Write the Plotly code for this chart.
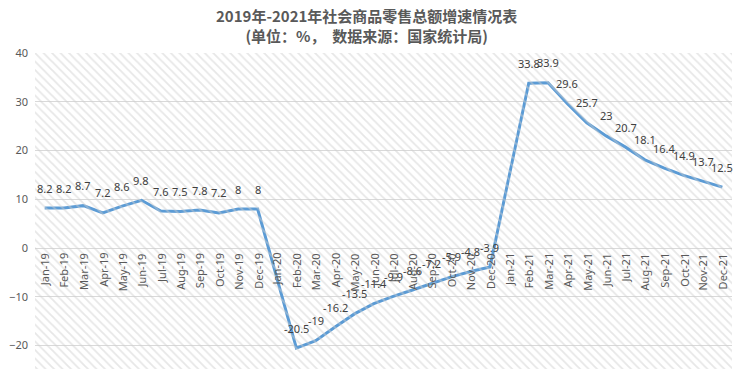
import plotly.graph_objects as go

months = ["Jan", "Feb", "Mar", "Apr", "May", "Jun", "Jul", "Aug", "Sep", "Oct", "Nov", "Dec"]
years = ["19", "20", "21"]
categories = [f"{m}-{y}" for y in years for m in months]

growth_2019 = [8.2, 8.2, 8.7, 7.2, 8.6, 9.8, 7.6, 7.5, 7.8, 7.2, 8, 8]
growth_2020 = [None, -20.5, -19, -16.2, -13.5, -11.4, -9.9, -8.6, -7.2, -5.9, -4.8, -3.9]
growth_2021 = [None, 33.8, 33.9, 29.6, 25.7, 23, 20.7, 18.1, 16.4, 14.9, 13.7, 12.5]
values = growth_2019 + growth_2020 + growth_2021

y_ticks = [-20, -10, 0, 10, 20, 30, 40]
y_range = [-24.8, 40]

title_line1 = "2019年-2021年社会商品零售总额增速情况表"
title_line2 = "(单位：%，  数据来源：国家统计局)"

LATIN = "Noto Sans, Liberation Sans, sans-serif"
CJK = "Noto Sans CJK SC, sans-serif"

fig = go.Figure()

# hatched plot-area background
fig.add_trace(go.Scatter(
    x=[0, 1, 1, 0, 0], y=[y_range[0], y_range[0], y_range[1], y_range[1], y_range[0]],
    xaxis="x2", yaxis="y", mode="lines", line=dict(width=0),
    fill="toself", fillcolor="rgba(0,0,0,0)",
    fillpattern=dict(shape="\\", fgcolor="#CFCFCF", bgcolor="rgba(0,0,0,0)", size=6, solidity=0.3),
    hoverinfo="skip", showlegend=False,
))

fig.add_trace(go.Scatter(
    x=categories, y=values, mode="lines", connectgaps=True,
    line=dict(color="#5B9BD5", width=3), showlegend=False,
))

annotations = []
for c, v in zip(categories, values):
    if v is not None:
        annotations.append(dict(
            x=c, y=v, xref="x", yref="y", text=f"{v:g}", showarrow=False,
            yanchor="middle", yshift=20,
            font=dict(family=LATIN, size=11, color="#404040"),
        ))
for c in categories:
    annotations.append(dict(
        x=c, y=0, xref="x", yref="y", text=c, showarrow=False,
        textangle=-90, xanchor="center", yanchor="top", yshift=-3,
        font=dict(family=LATIN, size=11, color="#595959"),
    ))
annotations.append(dict(
    x=0.476, y=1, xref="paper", yref="paper", yanchor="middle", yshift=28,
    text=f"<b>{title_line1}</b><br><b>{title_line2}</b>", showarrow=False,
    font=dict(family=CJK, size=15, color="#595959"),
))

fig.update_layout(
    width=740, height=369,
    margin=dict(l=35, r=8, t=53, b=0, autoexpand=False),
    paper_bgcolor="white", plot_bgcolor="white",
    xaxis=dict(type="category", range=[-0.5, len(categories) - 0.5], automargin=False,
               showticklabels=False, showgrid=False, zeroline=False, showline=False),
    xaxis2=dict(overlaying="x", range=[0, 1], visible=False),
    yaxis=dict(range=y_range, tickvals=y_ticks, showgrid=True, gridcolor="#D9D9D9",
               gridwidth=1, zeroline=False, showline=False, automargin=False,
               ticklabelstandoff=6,
               tickfont=dict(family=LATIN, size=11, color="#595959")),
    annotations=annotations,
)

fig.write_html("out.html", config={"displayModeBar": False},
               post_script="document.body.style.margin='0';document.body.style.overflow='hidden';")
